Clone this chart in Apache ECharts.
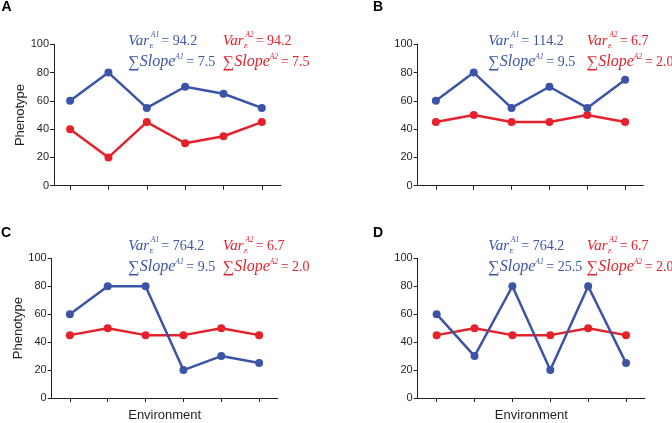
<!DOCTYPE html>
<html>
<head>
<meta charset="utf-8">
<script src="https://cdn.jsdelivr.net/npm/echarts@6/dist/echarts.min.js"></script>
<style>
html, body { margin: 0; padding: 0; background: #fff; }
#chart { width: 672px; height: 423px; }
</style>
</head>
<body>
<div id="chart"></div>
<script>
// data
var environments = [1, 2, 3, 4, 5, 6];
var panelLabels = ['A', 'B', 'C', 'D'];

var a1PanelA = [60, 80, 55, 70, 65, 55];
var a2PanelA = [40, 20, 45, 30, 35, 45];
var a1PanelB = [60, 80, 55, 70, 55, 75];
var a2PanelB = [45, 50, 45, 45, 50, 45];
var a1PanelC = [60, 80, 80, 20, 30, 25];
var a2PanelC = [45, 50, 45, 45, 50, 45];
var a1PanelD = [60, 30, 80, 20, 80, 25];
var a2PanelD = [45, 50, 45, 45, 50, 45];

var varA1 = ['94.2', '114.2', '764.2', '764.2'];
var varA2 = ['94.2', '6.7', '6.7', '6.7'];
var slopeA1 = ['7.5', '9.5', '9.5', '25.5'];
var slopeA2 = ['7.5', '2.0', '2.0', '2.0'];

(function() {
    var BLUE = '#3b54a5';
    var RED = '#e3222b';
    var INK = '#231f20';
    var SANS = '"Liberation Sans", Arial, sans-serif';
    var SERIF = '"Liberation Serif", "Times New Roman", serif';

    var a1All = [a1PanelA, a1PanelB, a1PanelC, a1PanelD];
    var a2All = [a2PanelA, a2PanelB, a2PanelC, a2PanelD];

    // panel layout (pixels) and x range so the 6 ticks sit where they do in the figure
    var panels = [
        {left: 54,    top: 44.3,  width: 227,   height: 141.4, xMin: 0.58, xMax: 6.5,  lab: [6.5, 7],   ann: [128.3, 222.7], base: [46.5, 66.8]},
        {left: 417.7, top: 44.3,  width: 225.6, height: 141.4, xMin: 0.52, xMax: 6.48, lab: [378, 7.5], ann: [488.3, 586.7], base: [46.5, 66.8]},
        {left: 51.7,  top: 258.3, width: 226,   height: 141.7, xMin: 0.52, xMax: 6.49, lab: [6, 233.5], ann: [128.3, 222.7], base: [251.5, 271.8]},
        {left: 417.7, top: 258.3, width: 227.3, height: 141.7, xMin: 0.5,  xMax: 6.5,  lab: [378, 233], ann: [488.3, 586.7], base: [251.5, 271.8]}
    ];

    function pairs(vals) {
        return vals.map(function(v, i) { return [environments[i], v]; });
    }

    // text placed by its baseline
    function txt(x, base, str, size, font, color) {
        return {
            type: 'text',
            x: x,
            y: base - 0.34 * size,
            silent: true,
            style: {
                text: str,
                font: font.replace('%s', size + 'px'),
                fill: color,
                align: 'left',
                verticalAlign: 'middle'
            }
        };
    }

    function annot(x0, b1, b2, color, sup, varVal, slopeVal) {
        var it = 'italic %s ' + SERIF;
        var up = '%s ' + SERIF;
        return [
            txt(x0, b1, 'Var', 15, it, color),
            txt(x0 + 22.5, b1 - 8.5, sup, 7.5, it, color),
            txt(x0 + 21, b1 + 2.5, 'E', 7, it, color),
            txt(x0 + 33, b1, '= ' + varVal, 14, up, color),
            txt(x0, b2 + 1, '\u2211', 16, up, color),
            txt(x0 + 11.5, b2, 'Slope', 16, it, color),
            txt(x0 + 47, b2 - 7.5, sup, 7.5, it, color),
            txt(x0 + 58, b2, '= ' + slopeVal, 14, up, color)
        ];
    }

    var grids = [], xAxes = [], yAxes = [], series = [], graphics = [];

    panels.forEach(function(p, i) {
        var axisLine = {show: true, onZero: false, lineStyle: {color: INK, width: 1}};
        grids.push({left: p.left, top: p.top, width: p.width, height: p.height, containLabel: false});
        xAxes.push({
            gridIndex: i,
            type: 'value',
            min: p.xMin,
            max: p.xMax,
            axisLine: axisLine,
            axisTick: {show: true, customValues: environments, length: 4, inside: false, lineStyle: {color: INK, width: 1}},
            axisLabel: {show: false},
            splitLine: {show: false},
            name: i >= 2 ? 'Environment' : '',
            nameLocation: 'middle',
            nameGap: 11,
            nameTextStyle: {fontFamily: SANS, fontSize: 13, color: INK, verticalAlign: 'top'}
        });
        yAxes.push({
            gridIndex: i,
            type: 'value',
            min: 0,
            max: 100,
            interval: 20,
            axisLine: axisLine,
            axisTick: {show: true, length: 4, inside: false, lineStyle: {color: INK, width: 1}},
            axisLabel: {fontFamily: SANS, fontSize: 11, color: INK, margin: 5},
            splitLine: {show: false},
            name: (i % 2 === 0) ? 'Phenotype' : '',
            nameLocation: 'middle',
            nameGap: 24,
            nameTextStyle: {fontFamily: SANS, fontSize: 13, color: INK}
        });
        // red under blue, as in the figure
        [[a2All[i], RED], [a1All[i], BLUE]].forEach(function(s) {
            series.push({
                type: 'line',
                xAxisIndex: i,
                yAxisIndex: i,
                data: pairs(s[0]),
                symbol: 'circle',
                symbolSize: 8,
                showSymbol: true,
                lineStyle: {color: s[1], width: 2.5},
                itemStyle: {color: s[1]},
                silent: true
            });
        });

        graphics.push({
            type: 'text',
            x: p.lab[0],
            y: p.lab[1],
            style: {text: panelLabels[i], font: 'bold 14px ' + SANS, fill: '#000', align: 'center', verticalAlign: 'middle'}
        });
        graphics = graphics.concat(annot(p.ann[0], p.base[0], p.base[1], BLUE, 'A1', varA1[i], slopeA1[i]));
        graphics = graphics.concat(annot(p.ann[1], p.base[0], p.base[1], RED, 'A2', varA2[i], slopeA2[i]));
    });

    var myChart = echarts.init(document.getElementById('chart'), null, {renderer: 'canvas'});
    myChart.setOption({
        animation: false,
        backgroundColor: '#fff',
        grid: grids,
        xAxis: xAxes,
        yAxis: yAxes,
        series: series,
        graphic: graphics
    });
})();
</script>
</body>
</html>
